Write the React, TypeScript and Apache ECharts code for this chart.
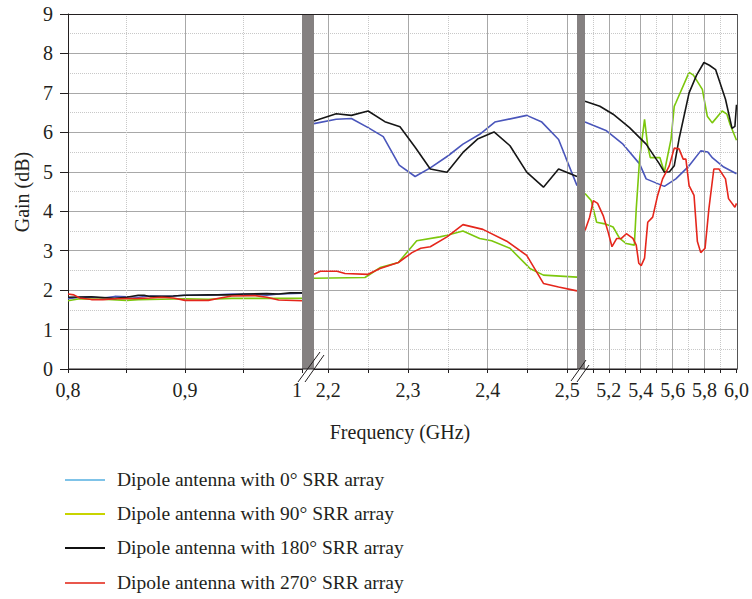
import React, { useEffect, useRef } from 'react';
import * as echarts from 'echarts';

// ---------- data ----------
const seriesNames = [
  'Dipole antenna with 0° SRR array',
  'Dipole antenna with 90° SRR array',
  'Dipole antenna with 180° SRR array',
  'Dipole antenna with 270° SRR array',
];

// segment 1 : 0.8 - 1.0 GHz
const seg1Blue = [[0.8,1.78],[0.81,1.82],[0.82,1.82],[0.83,1.8],[0.84,1.84],[0.85,1.83],[0.86,1.82],[0.87,1.85],[0.88,1.84],[0.89,1.85],[0.9,1.87],[0.92,1.87],[0.94,1.9],[0.96,1.89],[0.97,1.87],[0.98,1.9],[1.0,1.92]];
const seg1Green = [[0.8,1.73],[0.81,1.78],[0.83,1.77],[0.85,1.74],[0.86,1.76],[0.88,1.77],[0.9,1.78],[0.92,1.77],[0.94,1.79],[0.96,1.79],[0.98,1.79],[1.0,1.79]];
const seg1Black = [[0.8,1.82],[0.82,1.83],[0.84,1.79],[0.85,1.82],[0.86,1.87],[0.865,1.87],[0.87,1.84],[0.88,1.84],[0.89,1.85],[0.9,1.87],[0.92,1.88],[0.94,1.88],[0.95,1.9],[0.97,1.91],[0.98,1.9],[0.99,1.93],[1.0,1.93]];
const seg1Red = [[0.8,1.9],[0.805,1.88],[0.81,1.8],[0.82,1.76],[0.83,1.76],[0.84,1.78],[0.86,1.79],[0.87,1.8],[0.88,1.82],[0.89,1.8],[0.9,1.74],[0.92,1.74],[0.93,1.8],[0.94,1.85],[0.96,1.86],[0.97,1.82],[0.98,1.75],[1.0,1.73]];

// segment 2 : 2.18 - 2.51 GHz
const seg2Blue = [[2.1821,6.22],[2.21,6.33],[2.229,6.35],[2.25,6.12],[2.269,5.89],[2.289,5.17],[2.309,4.88],[2.328,5.1],[2.35,5.4],[2.369,5.7],[2.39,5.95],[2.409,6.26],[2.449,6.43],[2.468,6.26],[2.489,5.82],[2.498,5.36],[2.5121,4.65]];
const seg2Green = [[2.1821,2.3],[2.246,2.32],[2.25,2.37],[2.265,2.57],[2.288,2.7],[2.311,3.25],[2.34,3.35],[2.349,3.39],[2.369,3.5],[2.39,3.31],[2.405,3.25],[2.428,3.06],[2.453,2.55],[2.47,2.38],[2.5121,2.33]];
const seg2Black = [[2.1821,6.29],[2.21,6.47],[2.229,6.43],[2.25,6.54],[2.271,6.27],[2.29,6.14],[2.309,5.62],[2.328,5.07],[2.349,4.99],[2.369,5.49],[2.388,5.84],[2.408,6.01],[2.428,5.66],[2.449,4.99],[2.47,4.61],[2.489,5.07],[2.5121,4.88]];
const seg2Red = [[2.1821,2.4],[2.19,2.48],[2.211,2.48],[2.221,2.42],[2.25,2.4],[2.265,2.55],[2.288,2.7],[2.305,2.95],[2.316,3.06],[2.328,3.1],[2.349,3.35],[2.369,3.66],[2.394,3.54],[2.424,3.24],[2.449,2.88],[2.47,2.17],[2.489,2.08],[2.5121,1.98]];

// segment 3 : 5.05 - 6.0 GHz
const seg3Blue = [[5.051,6.26],[5.186,6.04],[5.289,5.7],[5.393,5.2],[5.434,4.82],[5.548,4.63],[5.62,4.82],[5.703,5.15],[5.776,5.53],[5.82,5.5],[5.85,5.35],[5.92,5.12],[6.0,4.95]];
const seg3Green = [[5.051,4.45],[5.09,4.27],[5.124,3.72],[5.175,3.68],[5.227,3.6],[5.268,3.31],[5.31,3.18],[5.36,3.14],[5.372,4.06],[5.393,5.32],[5.403,5.65],[5.424,6.33],[5.444,5.65],[5.46,5.36],[5.52,5.36],[5.548,4.99],[5.59,5.83],[5.61,6.66],[5.62,6.75],[5.703,7.52],[5.73,7.45],[5.786,7.09],[5.817,6.41],[5.848,6.24],[5.91,6.54],[5.94,6.46],[5.96,6.2],[6.0,5.8]];
const seg3Black = [[5.051,6.79],[5.144,6.66],[5.227,6.46],[5.33,6.12],[5.434,5.7],[5.517,5.2],[5.548,4.99],[5.58,5.0],[5.61,5.15],[5.64,5.83],[5.703,7.0],[5.75,7.45],[5.796,7.77],[5.83,7.7],[5.869,7.59],[5.931,6.84],[5.972,6.1],[5.99,6.15],[6.0,6.7]];
const seg3Red = [[5.051,3.51],[5.08,3.85],[5.103,4.27],[5.13,4.2],[5.165,3.89],[5.196,3.47],[5.22,3.1],[5.25,3.31],[5.279,3.31],[5.31,3.43],[5.351,3.31],[5.372,3.14],[5.388,2.68],[5.403,2.62],[5.424,2.81],[5.444,3.72],[5.475,3.85],[5.506,4.4],[5.537,4.82],[5.579,5.15],[5.61,5.6],[5.64,5.58],[5.666,5.32],[5.683,5.32],[5.703,4.65],[5.734,4.4],[5.755,3.23],[5.776,2.95],[5.803,3.06],[5.827,4.06],[5.858,5.07],[5.89,5.07],[5.931,4.82],[5.95,4.32],[5.99,4.1],[6.0,4.2]];

// axis ranges
const segRanges = [[0.8, 1.0], [2.1821, 2.5121], [5.051, 6.001]];
// ticks / labels / grid lines
const segTicks = [
  [0.8, 0.85, 0.9, 0.95, 1.0],
  [2.2, 2.25, 2.3, 2.35, 2.4, 2.45, 2.5],
  [5.1, 5.2, 5.3, 5.4, 5.5, 5.6, 5.7, 5.8, 5.9, 6.0],
];
const segLabels = [
  [0.8, 0.9, 1.0],
  [2.2, 2.3, 2.4, 2.5],
  [5.2, 5.4, 5.6, 5.8, 6.0],
];
const segLabelText = [
  ['0,8', '0,9', '1'],
  ['2,2', '2,3', '2,4', '2,5'],
  ['5,2', '5,4', '5,6', '5,8', '6,0'],
];
const segMajor = [[0.9], [2.2, 2.3, 2.4, 2.5], [5.2, 5.4, 5.6, 5.8]];
const segMinor = [[0.85, 0.95], [2.25, 2.35, 2.45], [5.1, 5.3, 5.5, 5.7, 5.9]];
const yTicks = [0, 9, 1];

const segData = [
  [seg1Blue, seg1Green, seg1Black, seg1Red],
  [seg2Blue, seg2Green, seg2Black, seg2Red],
  [seg3Blue, seg3Green, seg3Black, seg3Red],
];

const lineColors = ['#4a56bb', '#7cc70d', '#161616', '#e5261c'];
const legendColors = ['#7fc3e8', '#c8d400', '#111111', '#e9574c'];

const FONT = '"Liberation Serif", "Times New Roman", serif';
const TXT = '#231f20';

const grids = [
  { left: 68, top: 14, width: 234, height: 355 },
  { left: 314, top: 14, width: 263, height: 355 },
  { left: 585, top: 14, width: 153, height: 355 },
];

export default function App() {
  const ref = useRef<HTMLDivElement>(null);
  useEffect(() => {
    if (!ref.current) return;
    const chart = echarts.init(ref.current, null, { renderer: 'svg' });

    const xAxis = grids.map((g, i) => ({
      type: 'value',
      gridIndex: i,
      min: segRanges[i][0],
      max: segRanges[i][1],
      axisLine: { show: true, lineStyle: { color: '#231f20', width: 1 } },
      axisTick: { show: true, customValues: segTicks[i], length: 4, lineStyle: { color: '#231f20' } },
      axisLabel: {
        show: true,
        customValues: segLabels[i],
        formatter: (v: number) => {
          const idx = segLabels[i].findIndex((t) => Math.abs(t - v) < 1e-6);
          return idx >= 0 ? segLabelText[i][idx] : '';
        },
        fontFamily: FONT,
        fontSize: 20,
        color: TXT,
        margin: 11,
        alignMaxLabel: i === 0 ? 'right' : 'center',
      },
      splitLine: { show: false },
    }));

    const yAxis = grids.map((g, i) => ({
      type: 'value',
      gridIndex: i,
      min: yTicks[0],
      max: yTicks[1],
      interval: yTicks[2],
      axisLine: { show: i === 0, lineStyle: { color: '#231f20', width: 1 } },
      axisTick: { show: i === 0, length: 8, lineStyle: { color: '#231f20' } },
      axisLabel: {
        show: i === 0,
        fontFamily: FONT,
        fontSize: 20,
        color: TXT,
        margin: 15,
      },
      splitLine: { show: true, lineStyle: { color: '#a8a8a8', width: 1 } },
      minorTick: { show: false, splitNumber: 2 },
      minorSplitLine: { show: true, lineStyle: { color: '#c8c8c8', type: 'dotted', width: 1 } },
    }));

    const series: any[] = [];
    grids.forEach((g, i) => {
      series.push({
        type: 'line',
        xAxisIndex: i,
        yAxisIndex: i,
        data: [],
        silent: true,
        z: 1,
        markLine: {
          silent: true,
          symbol: ['none', 'none'],
          label: { show: false },
          animation: false,
          data: [
            ...segMinor[i].map((v) => ({ xAxis: v, lineStyle: { color: '#c8c8c8', type: 'dotted', width: 1 } })),
            ...segMajor[i].map((v) => ({ xAxis: v, lineStyle: { color: '#a8a8a8', type: 'solid', width: 1 } })),
          ],
        },
      });
      segData[i].forEach((d, k) => {
        series.push({
          name: seriesNames[k],
          type: 'line',
          xAxisIndex: i,
          yAxisIndex: i,
          data: d,
          symbol: 'none',
          silent: true,
          z: 3 + k,
          lineStyle: { color: lineColors[k], width: 1.6 },
        });
      });
    });

    const graphic: any[] = [
      // break bars
      { type: 'rect', shape: { x: 302, y: 14, width: 12, height: 355 }, style: { fill: '#858181' }, z: 10 },
      { type: 'rect', shape: { x: 577, y: 14, width: 8, height: 355 }, style: { fill: '#858181' }, z: 10 },
      // frame lines
      { type: 'line', shape: { x1: 68, y1: 14.5, x2: 738, y2: 14.5 }, style: { stroke: '#231f20', lineWidth: 1 }, z: 11 },
      { type: 'line', shape: { x1: 68, y1: 369, x2: 738, y2: 369 }, style: { stroke: '#231f20', lineWidth: 1 }, z: 11 },
      { type: 'line', shape: { x1: 737.5, y1: 14, x2: 737.5, y2: 369 }, style: { stroke: '#555555', lineWidth: 1 }, z: 11 },
      // break marks
      { type: 'line', shape: { x1: 298, y1: 382, x2: 320, y2: 352 }, style: { stroke: '#231f20', lineWidth: 1 }, z: 12 },
      { type: 'line', shape: { x1: 305, y1: 382, x2: 324, y2: 355 }, style: { stroke: '#231f20', lineWidth: 1 }, z: 12 },
      { type: 'line', shape: { x1: 571, y1: 381, x2: 586, y2: 360 }, style: { stroke: '#231f20', lineWidth: 1 }, z: 12 },
      { type: 'line', shape: { x1: 577, y1: 382, x2: 589, y2: 365 }, style: { stroke: '#231f20', lineWidth: 1 }, z: 12 },
      // axis titles
      {
        type: 'text', x: 400, y: 432,
        style: { text: 'Frequency (GHz)', fontFamily: FONT, fontSize: 20, fill: TXT, textAlign: 'center', textVerticalAlign: 'middle' },
      },
      {
        type: 'text', x: 22, y: 192, rotation: Math.PI / 2,
        style: { text: 'Gain (dB)', fontFamily: FONT, fontSize: 20, fill: TXT, textAlign: 'center', textVerticalAlign: 'middle' },
      },
    ];
    const legendRows = [480, 514, 548, 583];
    seriesNames.forEach((n, k) => {
      graphic.push({ type: 'line', shape: { x1: 65, y1: legendRows[k], x2: 105, y2: legendRows[k] }, style: { stroke: legendColors[k], lineWidth: 2 } });
      graphic.push({
        type: 'text', x: 117, y: legendRows[k] - 1,
        style: { text: n, fontFamily: FONT, fontSize: 19.5, fill: TXT, textAlign: 'left', textVerticalAlign: 'middle' },
      });
    });

    chart.setOption({
      animation: false,
      backgroundColor: '#ffffff',
      grid: grids,
      xAxis,
      yAxis,
      series,
      graphic,
    });
    return () => chart.dispose();
  }, []);
  return <div ref={ref} style={{ position: 'fixed', left: 0, top: 0, width: 752, height: 599 }} />;
}
